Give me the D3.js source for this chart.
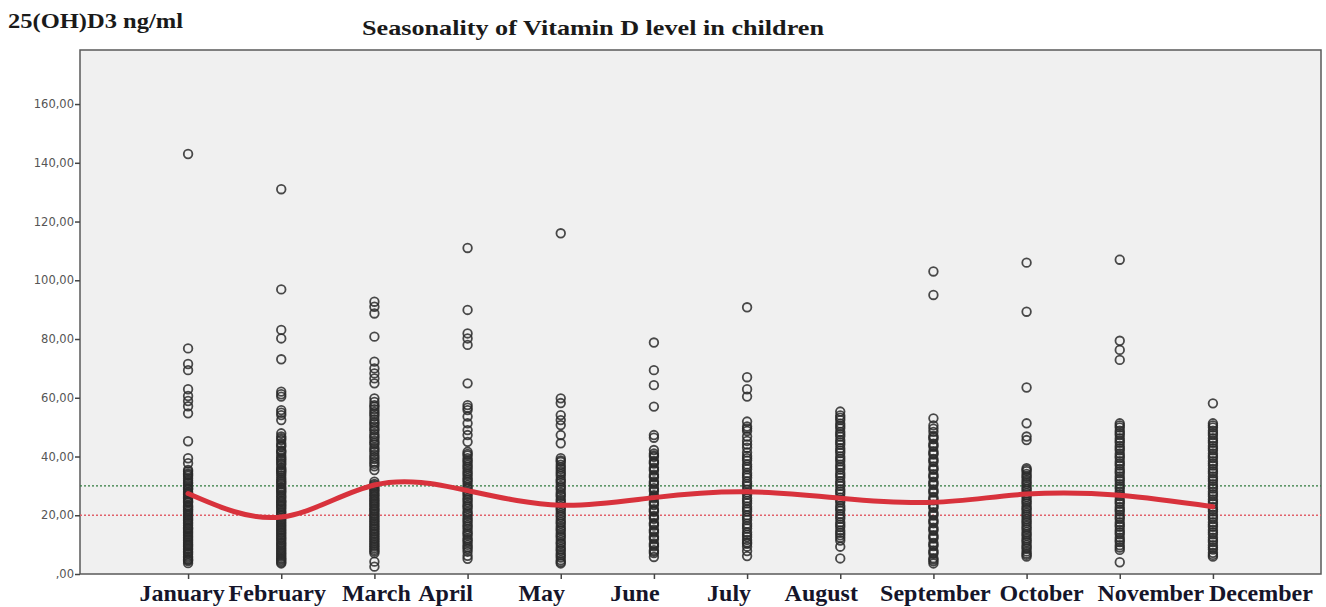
<!DOCTYPE html>
<html>
<head>
<meta charset="utf-8">
<script src="https://cdn.jsdelivr.net/npm/d3@7"></script>
<style>
  body { margin: 0; background: #fff; }
  svg { display: block; }
</style>
</head>
<body>
<main></main>
<script>
// Seasonality of vitamin D in children: SPSS style scatter by month + smooth fit

const months = ["January", "February", "March", "April", "May", "June",
                "July", "August", "September", "October", "November", "December"];

// individual 25(OH)D3 values, one list per month
const janVals = [143, 76.8, 71.5, 69.4, 62.9, 60.6, 58.9, 57.1, 54.7, 45.2, 39.4, 37.7, 35.4, 34.9, 34.2,
  33.4, 32.6, 31.9, 30.8, 30.1, 29.4, 28.8, 27.9, 27.1, 26.5, 25.6, 24.9, 24.3, 23.4, 22.7, 22.1, 21.2,
  20.6, 19.7, 19.1, 18.2, 17.6, 16.5, 15.8, 15.2, 14.1, 13.6, 12.5, 11.9, 10.8, 10.2, 9.4, 8.3, 7.7,
  6.7, 6.0, 5.0, 4.4, 3.7,
  33.8, 31.2, 29.0, 27.5, 26.0, 24.6, 23.0, 21.7, 20.1, 18.6, 17.1, 15.5, 14.6, 13.0, 11.4, 9.8, 8.8,
  7.2, 5.5, 4.8];
const febVals = [131, 96.9, 83.1, 80.2, 73.1, 62.1, 61.2, 60.4, 55.8, 54.9, 54.1, 52.4, 47.9, 46.8,
  45.6, 44.5, 43.3, 42.1, 41.2, 40.3, 39.1, 38.5, 37.2, 36.2, 35.2, 34.3, 33.6, 32.1, 31.5, 30.5, 29.6,
  28.6, 27.7, 26.9, 25.8, 25.0, 24.3, 23.2, 22.7, 21.4, 20.9, 19.8, 19.2, 18.1, 17.5, 16.4, 15.9, 14.8,
  14.2, 13.1, 12.5, 11.5, 10.8, 9.8, 9.2, 8.1, 7.5, 6.5, 5.9, 5.0, 4.5, 3.6,
  46.2, 43.8, 41.7, 39.6, 37.8, 35.7, 34.8, 32.8, 31.0, 29.1, 28.1, 26.3, 24.7, 23.7, 22.1, 20.3, 18.6,
  17.0, 15.3, 13.7, 12.0, 10.3, 8.6, 7.0, 5.4, 4.0];
const marVals = [92.7, 91.0, 88.7, 80.8, 72.3, 70.0, 68.3, 66.6, 64.9, 59.8, 58.6, 57.5, 56.1, 55.2,
  53.7, 52.6, 51.1, 50.2, 48.8, 47.7, 46.3, 45.4, 44.1, 43.0, 41.6, 40.6, 39.1, 38.2, 36.7, 35.4, 31.4,
  30.7, 29.7, 29.0, 28.0, 27.3, 26.3, 25.6, 24.6, 24.0, 23.0, 22.3, 21.3, 20.6, 19.6, 19.0, 17.9, 17.3,
  16.2, 15.6, 14.5, 13.9, 12.8, 12.2, 11.1, 10.5, 9.4, 8.8, 7.7, 7.1, 4.2, 2.5,
  30.2, 28.5, 26.8, 25.1, 23.5, 21.8, 20.1, 18.4, 16.7, 15.1, 13.4, 11.7, 9.9, 8.2, 57.0, 54.5, 51.7,
  49.4, 46.9, 44.7, 42.3, 39.8, 37.5];
const aprVals = [111, 89.9, 81.9, 80.2, 78.0, 64.9, 57.5, 56.6, 55.8, 53.6, 51.3, 49.0, 47.3, 45.0,
  41.6, 40.4, 39.4, 38.1, 37.2, 35.8, 34.9, 33.5, 32.6, 31.3, 30.3, 29.0, 28.1, 26.7, 25.8, 24.4, 23.5,
  22.2, 21.2, 19.9, 19.0, 17.6, 16.7, 15.3, 14.4, 13.1, 12.1, 10.8, 9.9, 8.5, 7.6, 6.2, 5.2,
  40.9, 38.7, 36.5, 34.2, 32.0, 29.6, 27.4, 25.2, 23.0, 20.6, 18.3, 16.1, 13.8, 11.5, 9.2];
const mayVals = [116, 59.8, 58.2, 54.1, 52.4, 50.7, 47.3, 44.5, 39.4, 38.2, 37.2, 35.7, 34.8, 33.4,
  32.3, 31.0, 30.0, 28.7, 27.7, 26.4, 25.4, 24.0, 23.1, 21.7, 20.8, 19.4, 18.5, 17.1, 16.2, 14.8,
  13.9, 12.5, 11.6, 10.2, 9.3, 7.9, 7.0, 5.6, 4.7, 3.6,
  38.7, 36.4, 34.1, 31.7, 29.4, 27.0, 24.7, 22.4, 20.0, 17.7, 15.4, 13.1, 10.7, 8.5, 6.3, 4.1];
const junVals = [78.8, 69.4, 64.3, 57.0, 47.3, 46.4, 42.2, 41.0, 39.9, 38.5, 37.6, 36.2, 35.2, 33.8,
  32.9, 31.5, 30.5, 29.2, 28.2, 26.8, 25.8, 24.5, 23.5, 22.1, 21.2, 19.8, 18.8, 17.4, 16.5, 15.1,
  14.1, 12.8, 11.8, 10.4, 9.4, 8.1, 7.1, 5.8,
  40.4, 38.0, 35.7, 33.3, 31.0, 28.7, 26.3, 24.0, 21.6, 19.3, 17.0, 14.6, 12.3, 9.9, 7.6];
const julVals = [90.8, 67.0, 62.9, 60.4, 51.9, 50.2, 48.7, 46.8, 45.3, 43.0, 41.4, 40.2, 38.6, 37.3,
  35.7, 34.4, 32.8, 31.5, 29.9, 28.7, 27.0, 25.8, 24.1, 22.9, 21.3, 20.0, 18.4, 17.1, 15.5, 14.2,
  12.6, 11.6, 10.3, 9.3, 7.8, 6.1,
  49.5, 44.1, 39.4, 36.5, 33.6, 30.7, 27.8, 24.9, 22.1, 19.2, 16.3, 13.4, 10.8];
const augVals = [55.3, 54.0, 52.4, 51.2, 49.6, 48.4, 46.8, 45.6, 44.0, 42.8, 41.2, 40.0, 38.4, 37.2,
  35.6, 34.4, 32.8, 31.6, 30.0, 28.8, 27.2, 26.0, 24.4, 23.2, 21.6, 20.4, 18.8, 17.6, 16.0, 14.8,
  13.2, 11.4, 9.3, 5.3,
  53.2, 50.4, 47.6, 44.8, 42.0, 39.2, 36.4, 33.6, 30.8, 28.0, 25.2, 22.4, 19.6, 16.8, 14.0, 12.3];
const sepVals = [103, 95.0, 53.0, 50.6, 48.4, 47.0, 45.9, 44.4, 43.3, 41.8, 40.7, 39.2, 38.1, 36.6,
  35.5, 34.0, 32.9, 31.4, 30.3, 28.8, 27.7, 26.2, 25.1, 23.6, 22.5, 21.0, 19.9, 18.4, 17.3, 15.8,
  14.7, 13.2, 12.1, 10.6, 9.5, 8.0, 6.9, 5.4, 4.3, 3.6,
  49.5, 46.5, 43.8, 41.1, 38.6, 35.8, 33.3, 30.9, 28.1, 25.6, 23.0, 20.4, 17.9, 15.2, 12.6, 10.0,
  7.4, 4.9];
const octVals = [106, 89.3, 63.5, 51.3, 46.8, 45.6, 36.0, 35.0, 34.1, 32.8, 31.9, 30.6, 29.7, 28.4,
  27.5, 26.2, 25.3, 24.0, 23.1, 21.8, 20.9, 19.6, 18.7, 17.4, 16.5, 15.2, 14.3, 13.0, 12.1, 10.8,
  9.9, 8.6, 7.7, 6.5, 5.9,
  35.5, 33.4, 31.2, 29.0, 26.8, 24.6, 22.4, 20.2, 18.0, 15.8, 13.6, 11.4, 9.2, 7.0];
const novVals = [107, 79.4, 76.3, 72.9, 51.3, 49.9, 48.8, 47.3, 46.2, 44.7, 43.6, 42.1, 41.0, 39.5,
  38.4, 36.9, 35.8, 34.3, 33.2, 31.7, 30.6, 29.1, 28.0, 26.5, 25.4, 23.9, 22.8, 21.3, 20.2, 18.7,
  17.6, 16.1, 15.0, 13.5, 12.4, 10.9, 9.8, 8.2, 4.0,
  50.6, 48.0, 45.4, 42.8, 40.2, 37.6, 35.0, 32.4, 29.8, 27.2, 24.6, 22.0, 19.4, 16.8, 14.2, 11.6, 9.0];
const decVals = [58.1, 51.3, 49.9, 48.8, 47.3, 46.2, 44.7, 43.6, 42.1, 41.0, 39.5, 38.4, 36.9, 35.8,
  34.3, 33.2, 31.7, 30.6, 29.1, 28.0, 26.5, 25.4, 23.9, 22.8, 21.3, 20.2, 18.7, 17.6, 16.1, 15.0,
  13.5, 12.4, 10.9, 9.8, 8.3, 7.2, 5.9,
  50.6, 48.0, 45.4, 42.8, 40.2, 37.6, 35.0, 32.4, 29.8, 27.2, 24.6, 22.0, 19.4, 16.8, 14.2, 11.6,
  9.0, 6.5];

// fitted curve value at each month
const fitVals = [27.4, 19.4, 30.3, 28.4, 23.4, 26.0, 28.0, 25.8, 24.4, 27.2, 26.8, 22.9];

// reference lines
const refSufficient = 30;
const refDeficient = 20;

const yTicks = [0, 20, 40, 60, 80, 100, 120, 140, 160];

const width = 1326,
      height = 607;

const plot = { left: 80, top: 50, right: 1321, bottom: 574 };

// month labels in the original sit a bit off their ticks (px shift from tick)
const labelShift = [-6, -4, 2, -22, -19, -19, -18, -19, 2, 15, 31, 48];

const allVals = [janVals, febVals, marVals, aprVals, mayVals, junVals,
                 julVals, augVals, sepVals, octVals, novVals, decVals];

let points = [];
allVals.forEach((vals, i) => {
  vals.forEach(v => points.push({ month: months[i], value: v }));
});

let svg = d3.select("main").append("svg")
  .attr("width", width)
  .attr("height", height);

let x = d3.scalePoint()
  .domain(months)
  .range([plot.left, plot.right])
  .padding(1.16);

let y = d3.scaleLinear()
  .domain([0, 178.4])
  .range([plot.bottom, plot.top]);

// Plot background
svg.append("rect")
  .attr("x", plot.left)
  .attr("y", plot.top)
  .attr("width", plot.right - plot.left)
  .attr("height", plot.bottom - plot.top)
  .attr("fill", "#f0f0f0")
  .attr("stroke", "#5a5a5a")
  .attr("stroke-width", 1.5);

// Reference lines
svg.append("line")
  .attr("x1", plot.left).attr("x2", plot.right)
  .attr("y1", y(refSufficient)).attr("y2", y(refSufficient))
  .attr("stroke", "#2f7a3c")
  .attr("stroke-width", 1.3)
  .attr("stroke-dasharray", "2,2");

svg.append("line")
  .attr("x1", plot.left).attr("x2", plot.right)
  .attr("y1", y(refDeficient)).attr("y2", y(refDeficient))
  .attr("stroke", "#e0606a")
  .attr("stroke-width", 1.3)
  .attr("stroke-dasharray", "2,2");

// Points
svg.append("g")
  .attr("class", "points")
  .selectAll("circle")
  .data(points)
  .enter()
  .append("circle")
  .attr("cx", d => x(d.month))
  .attr("cy", d => y(d.value))
  .attr("r", 4.3)
  .attr("fill", "none")
  .attr("stroke", "#2a2a2a")
  .attr("stroke-opacity", 0.85)
  .attr("stroke-width", 1.8);

// Fit curve
let fitLine = d3.line()
  .x((d, i) => x(months[i]))
  .y(d => y(d))
  .curve(d3.curveNatural);

svg.append("path")
  .datum(fitVals)
  .attr("d", fitLine)
  .attr("fill", "none")
  .attr("stroke", "#d8323c")
  .attr("stroke-width", 5)
  .attr("stroke-linecap", "round");

// Y axis
let yAxis = d3.axisLeft(y)
  .tickValues(yTicks)
  .tickSize(5)
  .tickFormat(d => d === 0 ? ",00" : d + ",00");

let yg = svg.append("g")
  .attr("transform", `translate(${plot.left},0)`)
  .call(yAxis);
yg.select(".domain").remove();
yg.selectAll(".tick line").attr("stroke", "#444").attr("stroke-width", 1.5);
yg.selectAll(".tick text")
  .attr("fill", "#555")
  .attr("font-family", "DejaVu Sans, Verdana, sans-serif")
  .attr("font-size", 11.5)
  .attr("x", -6);

// X axis (ticks only, labels placed below)
let xAxis = d3.axisBottom(x)
  .tickSize(5)
  .tickFormat("");

let xg = svg.append("g")
  .attr("transform", `translate(0,${plot.bottom})`)
  .call(xAxis);
xg.select(".domain").remove();
xg.selectAll(".tick line").attr("stroke", "#444").attr("stroke-width", 1.5);

svg.append("g")
  .attr("class", "month-labels")
  .selectAll("text")
  .data(months)
  .enter()
  .append("text")
  .attr("x", (d, i) => x(d) + labelShift[i])
  .attr("y", 601)
  .attr("text-anchor", "middle")
  .attr("fill", "#15152a")
  .attr("font-family", "Liberation Serif, Times New Roman, serif")
  .attr("font-weight", "bold")
  .attr("font-size", 24)
  .text(d => d);

// Titles
svg.append("text")
  .attr("x", 8)
  .attr("y", 28)
  .attr("font-family", "Liberation Serif, Times New Roman, serif")
  .attr("font-weight", "bold")
  .attr("font-size", 22)
  .attr("fill", "#1a1a1a")
  .attr("textLength", 175)
  .attr("lengthAdjust", "spacingAndGlyphs")
  .text("25(OH)D3 ng/ml");

svg.append("text")
  .attr("x", 362)
  .attr("y", 35)
  .attr("font-family", "Liberation Serif, Times New Roman, serif")
  .attr("font-weight", "bold")
  .attr("font-size", 22)
  .attr("fill", "#1a1a1a")
  .attr("textLength", 462)
  .attr("lengthAdjust", "spacingAndGlyphs")
  .text("Seasonality of Vitamin D level in children");
</script>
</body>
</html>
